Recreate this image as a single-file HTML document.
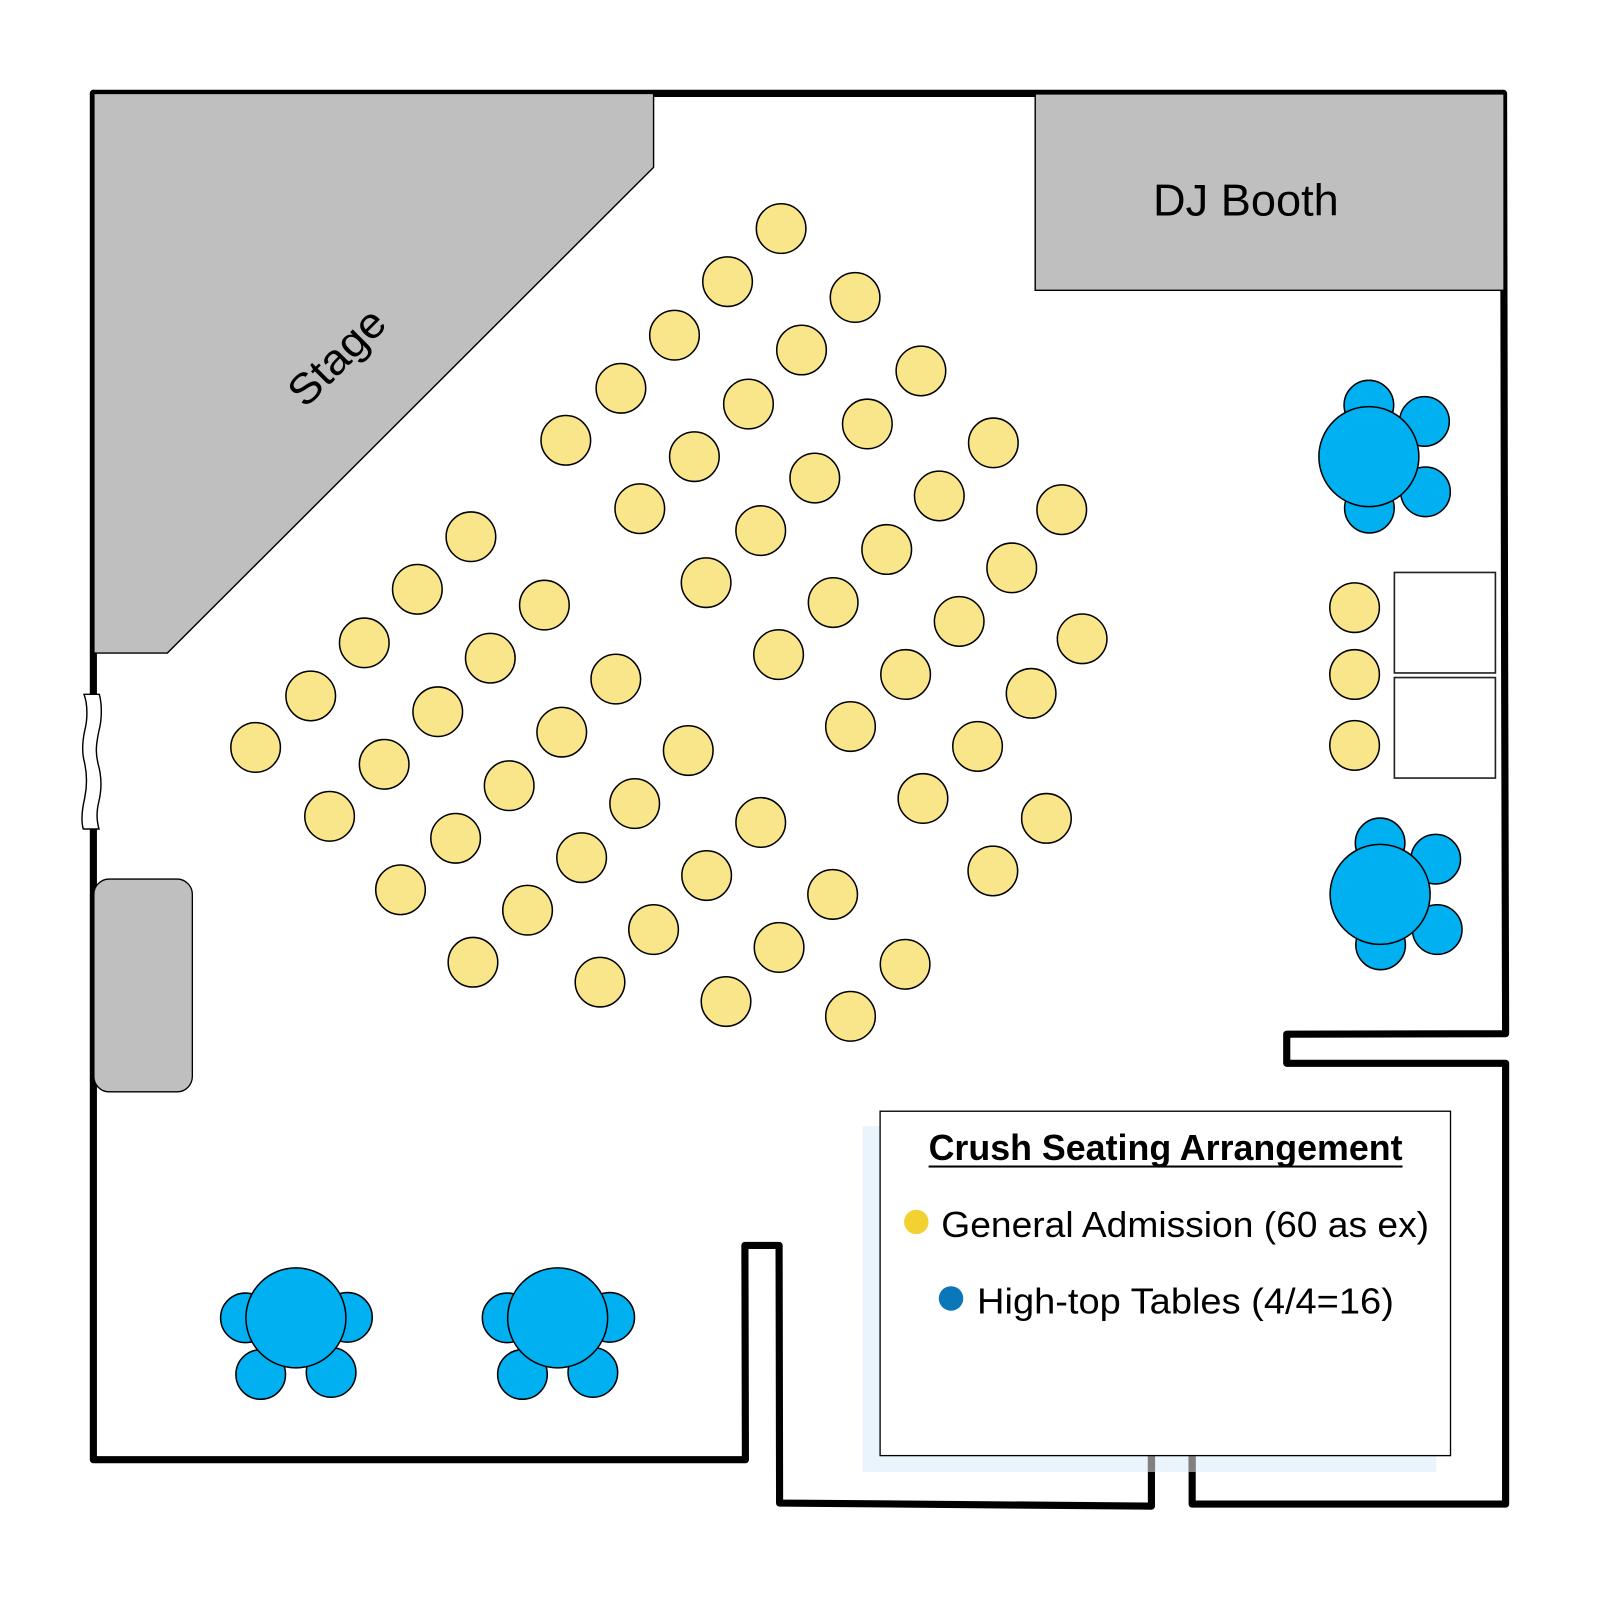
<!DOCTYPE html>
<html>
<head>
<meta charset="utf-8">
<title>Crush Seating Arrangement</title>
<style>
html,body{margin:0;padding:0;background:#fff;width:1600px;height:1600px;overflow:hidden}
svg{display:block}
text{font-family:"Liberation Sans",sans-serif;fill:#000}
.y circle{fill:#F9E68A;stroke:#000;stroke-width:1.5}
.b circle{fill:#00B0F0;stroke:#000;stroke-width:1.5}
</style>
</head>
<body>
<svg xmlns="http://www.w3.org/2000/svg" width="1600" height="1600" viewBox="0 0 1568 1568">
<rect width="1568" height="1568" fill="#fff"/>
<!-- walls -->
<path d="M91.5 91.5 L1473.5 91.5 L1474.5 640 L1475.5 1013 L1261 1013.5 L1261 1042 L1475.5 1042 L1475.5 1474 L1168.3 1474 L1168.3 1420" fill="none" stroke="#000" stroke-width="7" stroke-linejoin="round" stroke-linecap="round"/>
<path d="M1128.4 1420 L1128.4 1476 L764 1473 L763.5 1220.5 L730 1220.5 L730.5 1430.5 L91.5 1430.5 L91.5 91.5" fill="none" stroke="#000" stroke-width="7" stroke-linejoin="round" stroke-linecap="round"/>
<!-- stage -->
<path d="M92 91.5 H640.5 V164 L164 640 H92 Z" fill="#BFBFBF" stroke="#000" stroke-width="1.4"/>
<text transform="translate(299 401) rotate(-45)" font-size="42" textLength="116" lengthAdjust="spacingAndGlyphs">Stage</text>
<!-- DJ booth -->
<rect x="1014.5" y="92" width="459.5" height="192.5" fill="#BFBFBF" stroke="#000" stroke-width="1.4"/>
<text x="1130" y="211" font-size="44" textLength="182" lengthAdjust="spacingAndGlyphs">DJ Booth</text>
<!-- door -->
<path d="M82.3 680.4 H97.3 C100 690 100 705 97 716 C94 730 93.5 738 96 748 C99.5 760 100 772 97 785 C94 797 95 805 97 812.4 H81.6 C79.5 805 80 795 83 782 C85.5 770 85.5 760 83 748 C80 738 80.5 728 83 716 C86 705 86 690 82.3 680.4 Z" fill="#fff" stroke="#000" stroke-width="1.4"/>
<!-- bar -->
<rect x="92" y="861.5" width="96.5" height="208.5" rx="15" ry="15" fill="#BFBFBF" stroke="#000" stroke-width="1.3"/>
<!-- white squares -->
<rect x="1366.5" y="561" width="99" height="98.5" fill="#fff" stroke="#222" stroke-width="1.6"/>
<rect x="1366.5" y="664" width="99" height="98.5" fill="#fff" stroke="#222" stroke-width="1.6"/>
<!-- yellow seats -->
<g class="y">
<circle cx="765.5" cy="224" r="24.3"/><circle cx="713" cy="276" r="24.3"/><circle cx="661" cy="328.5" r="24.3"/><circle cx="608.5" cy="380.5" r="24.3"/><circle cx="554.5" cy="431.5" r="24.3"/>
<circle cx="838" cy="291.5" r="24.3"/><circle cx="785.5" cy="343" r="24.3"/><circle cx="733.5" cy="396" r="24.3"/><circle cx="680.5" cy="447.5" r="24.3"/><circle cx="627" cy="498.5" r="24.3"/>
<circle cx="902.5" cy="363.5" r="24.3"/><circle cx="850" cy="415.5" r="24.3"/><circle cx="798.5" cy="468.5" r="24.3"/><circle cx="745.5" cy="520" r="24.3"/><circle cx="692" cy="571" r="24.3"/>
<circle cx="973.5" cy="434" r="24.3"/><circle cx="920.5" cy="486" r="24.3"/><circle cx="869" cy="538.5" r="24.3"/><circle cx="816.5" cy="590.5" r="24.3"/><circle cx="763" cy="641.5" r="24.3"/>
<circle cx="1040.5" cy="499.5" r="24.3"/><circle cx="991.5" cy="556.5" r="24.3"/><circle cx="940" cy="609" r="24.3"/><circle cx="887.5" cy="661" r="24.3"/><circle cx="833.5" cy="712" r="24.3"/>
<circle cx="1060.5" cy="626" r="24.3"/><circle cx="1010.5" cy="679.5" r="24.3"/><circle cx="958" cy="731.5" r="24.3"/><circle cx="904.5" cy="782.5" r="24.3"/>
<circle cx="1025.5" cy="802" r="24.3"/><circle cx="973" cy="853.5" r="24.3"/>
<circle cx="461.5" cy="526" r="24.3"/><circle cx="409" cy="577.5" r="24.3"/><circle cx="357" cy="630" r="24.3"/><circle cx="304.5" cy="682" r="24.3"/><circle cx="250.5" cy="732.5" r="24.3"/>
<circle cx="533.5" cy="593" r="24.3"/><circle cx="480.5" cy="645" r="24.3"/><circle cx="429" cy="697.5" r="24.3"/><circle cx="376.5" cy="749" r="24.3"/><circle cx="323" cy="800" r="24.3"/>
<circle cx="603.5" cy="665.5" r="24.3"/><circle cx="550.5" cy="717.5" r="24.3"/><circle cx="499" cy="770" r="24.3"/><circle cx="446.5" cy="821.5" r="24.3"/><circle cx="392.5" cy="872" r="24.3"/>
<circle cx="674.5" cy="735.5" r="24.3"/><circle cx="622" cy="787.5" r="24.3"/><circle cx="570" cy="840.5" r="24.3"/><circle cx="517" cy="892" r="24.3"/><circle cx="463.5" cy="943" r="24.3"/>
<circle cx="745.5" cy="806" r="24.3"/><circle cx="692.5" cy="858" r="24.3"/><circle cx="640.5" cy="911" r="24.3"/><circle cx="588" cy="962.5" r="24.3"/>
<circle cx="816" cy="876.5" r="24.3"/><circle cx="763.5" cy="928.5" r="24.3"/><circle cx="711.5" cy="981.5" r="24.3"/>
<circle cx="887" cy="945" r="24.3"/><circle cx="833.5" cy="996" r="24.3"/>
<circle cx="1327.5" cy="595.5" r="24.3"/><circle cx="1327.5" cy="661" r="24.3"/><circle cx="1327.5" cy="730.5" r="24.3"/>
</g>
<!-- blue tables -->
<g class="b">
<circle cx="1341.5" cy="397" r="24.3"/><circle cx="1396" cy="413" r="24.3"/><circle cx="1397" cy="482" r="24.3"/><circle cx="1342" cy="498" r="24.3"/><circle cx="1341.5" cy="447.5" r="49"/>
<circle cx="1352.5" cy="826" r="24.3"/><circle cx="1407" cy="842" r="24.3"/><circle cx="1408.5" cy="911" r="24.3"/><circle cx="1353" cy="926" r="24.3"/><circle cx="1352.5" cy="876.5" r="49"/>
<circle cx="240.5" cy="1291.5" r="24.3"/><circle cx="340.5" cy="1291" r="24.3"/><circle cx="255.5" cy="1347" r="24.3"/><circle cx="324.5" cy="1345" r="24.3"/><circle cx="290" cy="1291.5" r="49"/>
<circle cx="497" cy="1291.5" r="24.3"/><circle cx="597.5" cy="1291" r="24.3"/><circle cx="512" cy="1347" r="24.3"/><circle cx="581" cy="1345" r="24.3"/><circle cx="546.5" cy="1291.5" r="49"/>
</g>
<!-- legend -->
<rect x="845.5" y="1103.5" width="562" height="339" fill="#EAF4FD"/>
<rect x="1124.8" y="1427" width="7.2" height="15.5" fill="#808080"/>
<rect x="1164.7" y="1427" width="7.2" height="15.5" fill="#808080"/>
<rect x="862.5" y="1089" width="559" height="337.5" fill="#fff" stroke="#000" stroke-width="1.3"/>
<text x="910" y="1137" font-size="35.5" font-weight="700" textLength="464.5" lengthAdjust="spacingAndGlyphs">Crush Seating Arrangement</text>
<rect x="910" y="1142.2" width="464.5" height="2" fill="#000"/>
<circle cx="898" cy="1197.5" r="12" fill="#F2D233"/>
<text x="922.5" y="1212.5" font-size="35.5" textLength="478" lengthAdjust="spacingAndGlyphs">General Admission (60 as ex)</text>
<circle cx="932" cy="1272.5" r="12" fill="#0A78B8"/>
<text x="957.5" y="1287" font-size="35.5" textLength="408.5" lengthAdjust="spacingAndGlyphs">High-top Tables (4/4=16)</text>
</svg>
</body>
</html>
